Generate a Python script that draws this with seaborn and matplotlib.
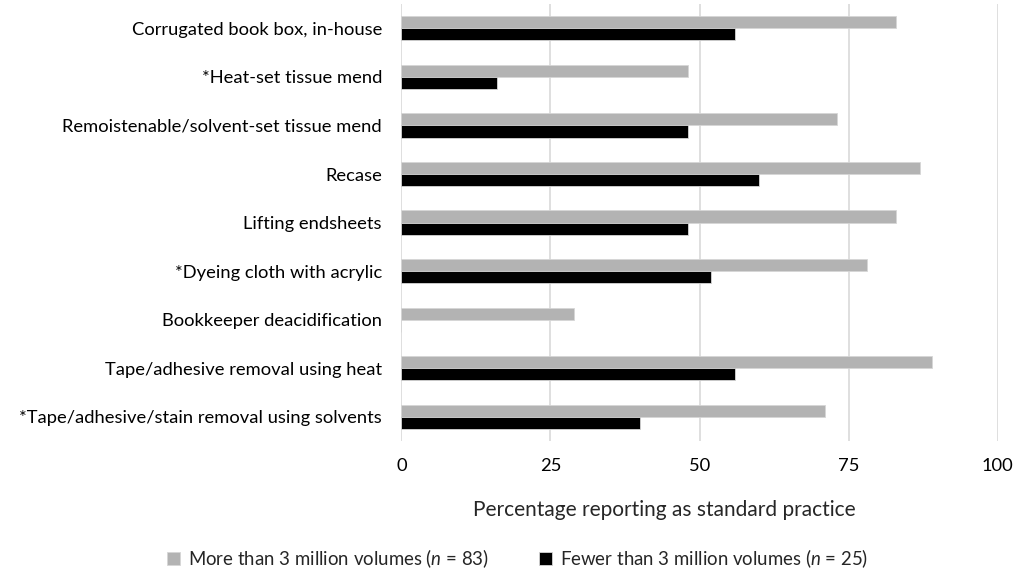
import pandas as pd
import numpy as np
import seaborn as sns
import matplotlib.pyplot as plt

# values
practices = ["Corrugated book box, in-house",
             "*Heat-set tissue mend",
             "Remoistenable/solvent-set tissue mend",
             "Recase",
             "Lifting endsheets",
             "*Dyeing cloth with acrylic",
             "Bookkeeper deacidification",
             "Tape/adhesive removal using heat",
             "*Tape/adhesive/stain removal using solvents"]
more_3m = [83, 48, 73, 87, 83, 78, 29, 89, 71]
fewer_3m = [56, 16, 48, 60, 48, 52, 0, 56, 40]
groups = ["More than 3 million volumes ($\\mathit{n}$ = 83)",
          "Fewer than 3 million volumes ($\\mathit{n}$ = 25)"]
xticks = [0, 25, 50, 75, 100]

df = pd.DataFrame({"Practice": practices * 2,
                   "Percent": more_3m + fewer_3m,
                   "Group": [groups[0]] * len(practices) + [groups[1]] * len(practices)})

sns.set_style("white")
plt.rcParams['font.family'] = ['Lato', 'DejaVu Sans']
plt.rcParams['mathtext.fontset'] = 'custom'
plt.rcParams['mathtext.it'] = 'Lato:italic'
plt.rcParams['mathtext.rm'] = 'Lato'

fig, ax = plt.subplots(figsize=(10.16, 5.73), dpi=100)
sns.barplot(data=df, x="Percent", y="Practice", hue="Group", orient="h",
            palette=["#b3b3b3", "#000000"], width=0.5, ax=ax,
            edgecolor="#d6d6d6", linewidth=0.6, errorbar=None, zorder=3)

ax.set_xlim(0, 100)
ax.set_ylim(8.5, -0.5)
ax.set_xticks(xticks)
ax.set_xticklabels([str(t) for t in xticks])
ax.grid(axis="x", color="#d9d9d9", linewidth=1.2, zorder=0)
ax.set_axisbelow(True)
for s in ax.spines.values():
    s.set_visible(False)
ax.tick_params(axis="both", length=0, labelsize=13.2, colors="#000000")
ax.tick_params(axis="y", pad=14)
ax.tick_params(axis="x", pad=12)
ax.set_ylabel("")
ax.set_xlabel("Percentage reporting as standard practice", fontsize=15, labelpad=16)
ax.xaxis.set_label_coords(0.441, -0.135)

# legend below the x label
ax.legend(loc="center", bbox_to_anchor=(0.195, -0.268), ncol=2, frameon=False,
          fontsize=13.4, handlelength=0.7, handleheight=0.7, handletextpad=0.4,
          columnspacing=2.7)

plt.subplots_adjust(left=0.395, right=0.982, top=0.993, bottom=0.23)
plt.savefig("out.png", dpi=100)
